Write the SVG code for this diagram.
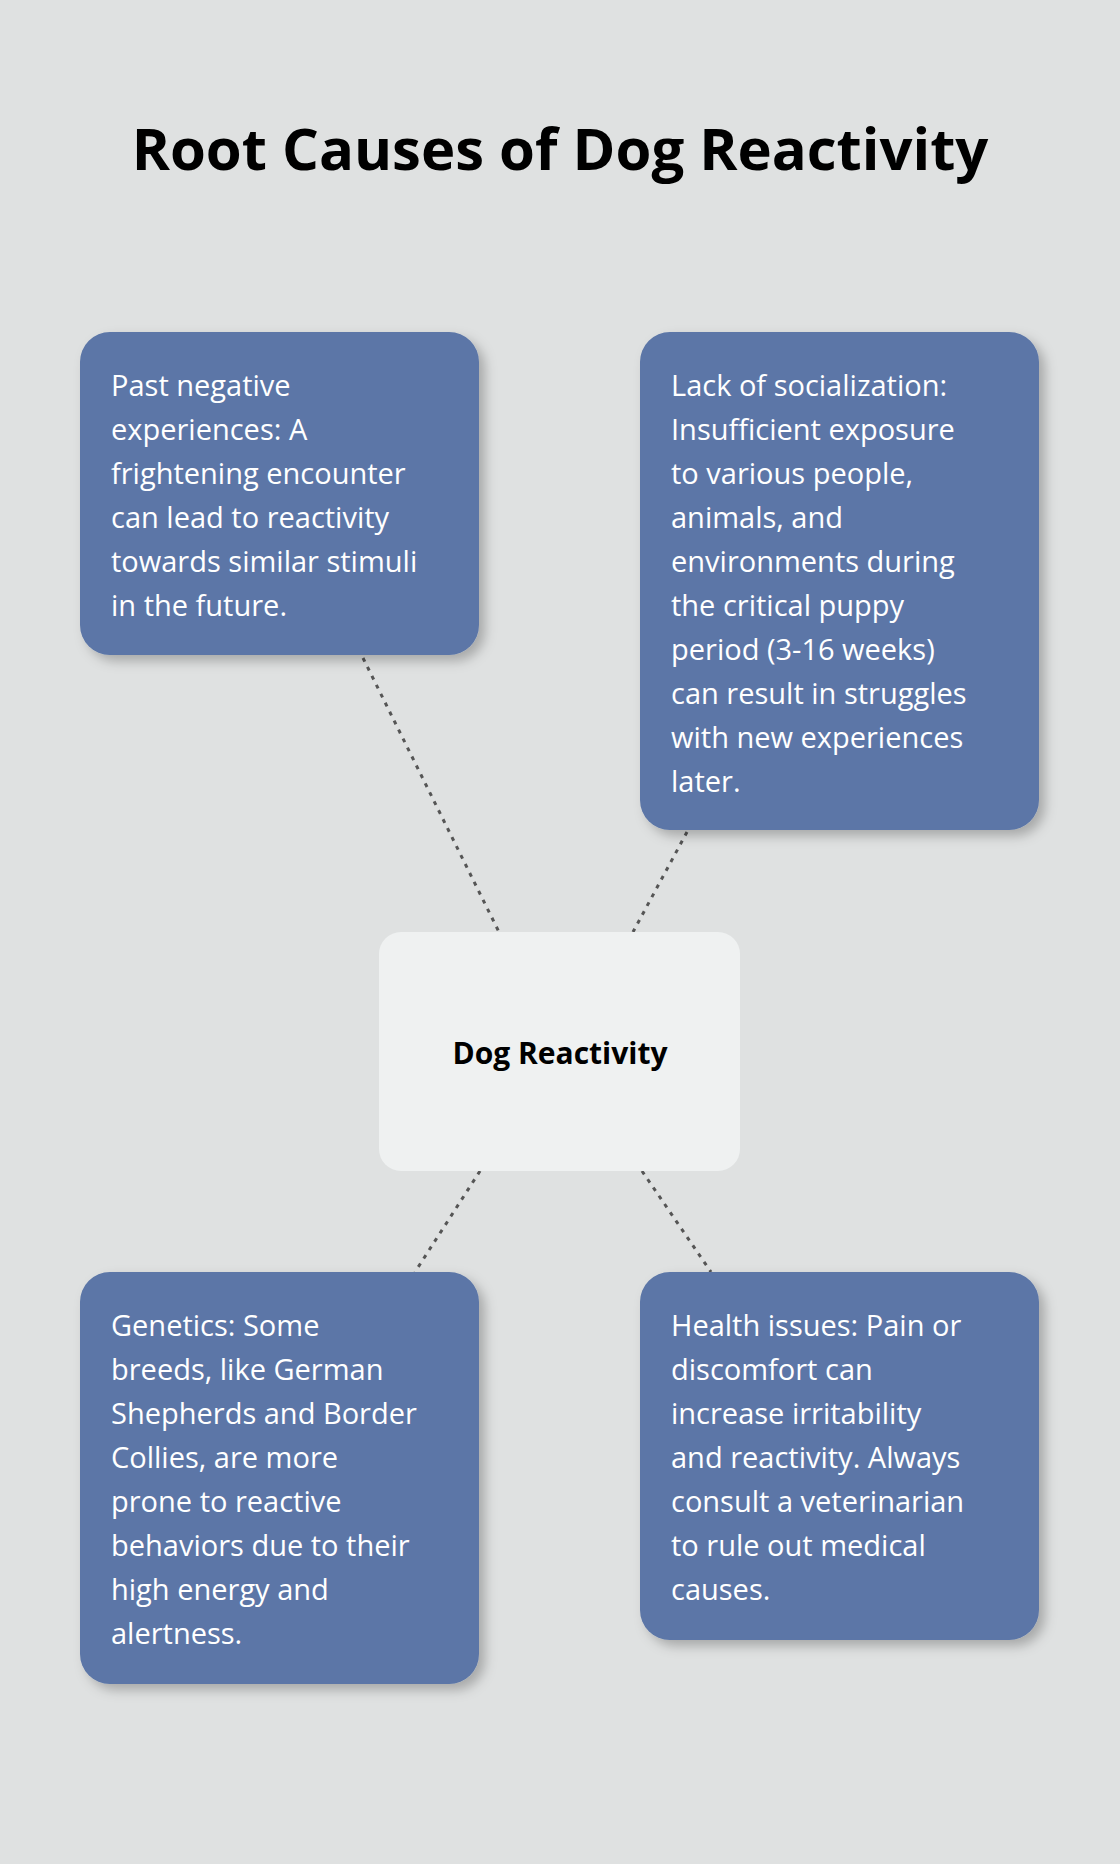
<svg xmlns="http://www.w3.org/2000/svg" width="1120" height="1864" viewBox="0 0 1120 1864">
<defs>
<style>
.box{fill:#5b76a7;filter:url(#sh)}
.t{font-family:"Open Sans","Noto Sans",sans-serif;font-size:29px;fill:#fff}
.c{stroke:#555;stroke-width:3;stroke-dasharray:4 6;fill:none}
</style>
<filter id="sh" x="-20%" y="-20%" width="140%" height="140%"><feDropShadow dx="6" dy="6" stdDeviation="6" flood-color="#000" flood-opacity="0.25"/></filter>
</defs>
<rect width="1120" height="1864" fill="#dfe1e1"/>
<text x="560" y="170" text-anchor="middle" font-family="'Open Sans','Noto Sans',sans-serif" font-weight="bold" font-size="58" fill="#000">Root Causes of Dog Reactivity</text>
<g id="connectors">
<line class="c" x1="363" y1="658" x2="499" y2="932"/>
<line class="c" x1="687" y1="832" x2="633" y2="932"/>
<line class="c" x1="480" y1="1171" x2="415" y2="1272"/>
<line class="c" x1="642" y1="1171" x2="711" y2="1272"/>
</g>
<g id="center">
<rect x="379" y="932" width="361" height="239" rx="22" fill="#eff1f1"/>
<text x="560" y="1064" text-anchor="middle" font-family="'Open Sans','Noto Sans',sans-serif" font-weight="bold" font-size="30" fill="#000">Dog Reactivity</text>
</g>
<g id="past">
<rect class="box" x="80" y="332" width="399" height="323" rx="30"/>
<text class="t"><tspan x="111" y="396">Past negative</tspan><tspan x="111" y="440">experiences: A</tspan><tspan x="111" y="484">frightening encounter</tspan><tspan x="111" y="528">can lead to reactivity</tspan><tspan x="111" y="572">towards similar stimuli</tspan><tspan x="111" y="616">in the future.</tspan></text>
</g>
<g id="social">
<rect class="box" x="640" y="332" width="399" height="498" rx="30"/>
<text class="t"><tspan x="671" y="396">Lack of socialization:</tspan><tspan x="671" y="440">Insufficient exposure</tspan><tspan x="671" y="484">to various people,</tspan><tspan x="671" y="528">animals, and</tspan><tspan x="671" y="572">environments during</tspan><tspan x="671" y="616">the critical puppy</tspan><tspan x="671" y="660">period (3-16 weeks)</tspan><tspan x="671" y="704">can result in struggles</tspan><tspan x="671" y="748">with new experiences</tspan><tspan x="671" y="792">later.</tspan></text>
</g>
<g id="genetics">
<rect class="box" x="80" y="1272" width="399" height="412" rx="30"/>
<text class="t"><tspan x="111" y="1336">Genetics: Some</tspan><tspan x="111" y="1380">breeds, like German</tspan><tspan x="111" y="1424">Shepherds and Border</tspan><tspan x="111" y="1468">Collies, are more</tspan><tspan x="111" y="1512">prone to reactive</tspan><tspan x="111" y="1556">behaviors due to their</tspan><tspan x="111" y="1600">high energy and</tspan><tspan x="111" y="1644">alertness.</tspan></text>
</g>
<g id="health">
<rect class="box" x="640" y="1272" width="399" height="368" rx="30"/>
<text class="t"><tspan x="671" y="1336">Health issues: Pain or</tspan><tspan x="671" y="1380">discomfort can</tspan><tspan x="671" y="1424">increase irritability</tspan><tspan x="671" y="1468">and reactivity. Always</tspan><tspan x="671" y="1512">consult a veterinarian</tspan><tspan x="671" y="1556">to rule out medical</tspan><tspan x="671" y="1600">causes.</tspan></text>
</g>
</svg>
